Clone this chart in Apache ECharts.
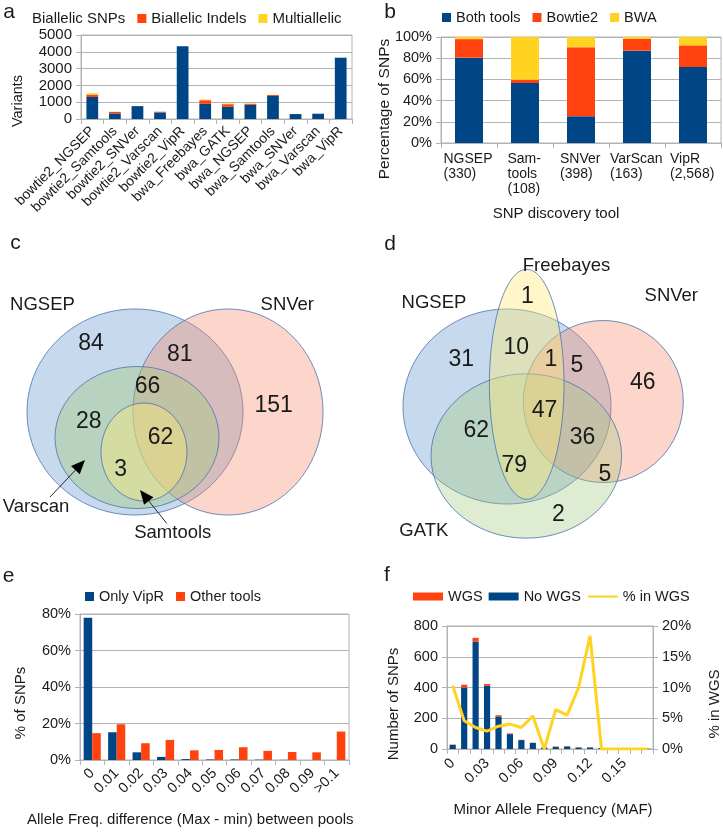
<!DOCTYPE html>
<html><head><meta charset="utf-8">
<script src="https://cdn.jsdelivr.net/npm/echarts/dist/echarts.min.js"></script>
<style>html,body{margin:0;padding:0;background:#fff}#c{width:723px;height:832px}</style>
</head><body><div id="c"></div>
<script>
// ---------- Panel a ----------
const aCategories = ['bowtie2_NGSEP','bowtie2_Samtools','bowtie2_SNVer','bowtie2_Varscan','bowtie2_VipR','bwa_Freebayes','bwa_GATK','bwa_NGSEP','bwa_Samtools','bwa_SNVer','bwa_Varscan','bwa_VipR'];
const aBiallelicSNPs   = [1310, 333, 765, 392, 4330, 902, 725, 843, 1372, 294, 314, 3650];
const aBiallelicIndels = [140, 90, 0, 40, 0, 216, 157, 59, 59, 0, 0, 0];
const aMultiallelic    = [80, 10, 0, 0, 0, 39, 39, 29, 0, 0, 0, 0];

// ---------- Panel b ----------
const bCategories = ['NGSEP\n(330)', 'Sam-\ntools\n(108)', 'SNVer\n(398)', 'VarScan\n(163)', 'VipR\n(2,568)'];
const bBothTools = [80.5, 56.6, 25.2, 87.1, 71.7];
const bBowtie2   = [17.5, 3.1, 65.1, 11.0, 20.4];
const bBWA       = [2.0, 40.3, 9.7, 1.9, 7.9];

// ---------- Panel c (Venn) ----------
const cSetNames = ['NGSEP', 'SNVer', 'Varscan', 'Samtools'];
const cCounts = [84, 81, 66, 151, 28, 62, 3];

// ---------- Panel d (Venn) ----------
const dSetNames = ['Freebayes', 'NGSEP', 'SNVer', 'GATK'];
const dCounts = [1, 10, 1, 5, 31, 46, 47, 62, 36, 79, 5, 2];

// ---------- Panel e ----------
const eCategories = ['0','0.01','0.02','0.03','0.04','0.05','0.06','0.07','0.08','0.09','>0.1'];
const eOnlyVipR    = [78.0, 15.2, 4.2, 1.7, 0.5, 0.3, 0.3, 0.2, 0.1, 0, 0];
const eOtherTools  = [14.7, 19.6, 9.2, 11.0, 5.3, 5.5, 7.0, 5.0, 4.4, 4.2, 15.6];

// ---------- Panel f ----------
const fCategories = ['0','0.01','0.02','0.03','0.04','0.05','0.06','0.07','0.08','0.09','0.1','0.11','0.12','0.13','0.14','0.15','0.16','0.17'];
const fNoWGS  = [26, 400, 698, 411, 212, 97, 58, 39, 9, 15, 17, 10, 10, 6, 1, 1, 1, 2];
const fWGS    = [3, 18, 25, 12, 8, 4, 2, 2, 0, 1, 1, 1, 2, 0, 0, 0, 0, 0];
const fPctInWGS = [10.3, 4.6, 3.5, 2.9, 3.7, 4.05, 3.5, 5.35, 0, 6.4, 5.5, 10.0, 18.4, 0, 0, 0, 0, 0];

// ---------- axis titles ----------
const axisTitles = ['Variants', 'Percentage of SNPs', 'SNP discovery tool', '% of SNPs',
  'Allele Freq. difference (Max - min) between pools', 'Number of SNPs', '% in WGS', 'Minor Allele Frequency (MAF)'];

// ---------- layout / style (not data) ----------
const FONT = '"Liberation Sans", Arial, sans-serif';
const TXT = '#1a1a1a';
const GRID = '#b3b3b3';
const BLUE = '#004586', RED = '#ff420e', YEL = '#ffd320';

const axisTitlePos = [ // [x, y, fontSize, vertical]
  [18, 101, 14.5, true], [385, 109, 15.5, true], [556, 214, 15, false], [20.5, 703, 15, true],
  [190.3, 820, 15, false], [394, 704, 15, true], [715, 704, 15, true], [553, 810, 15, false]
];

const cEllipses = [ // NGSEP, SNVer, Varscan, Samtools
  {cx:135, cy:412, rx:108, ry:103, fill:'rgba(114,159,207,0.40)'},
  {cx:228, cy:412, rx:95, ry:103, fill:'rgba(246,135,106,0.35)'},
  {cx:137, cy:437.5, rx:82, ry:71, fill:'rgba(161,201,126,0.40)'},
  {cx:144, cy:452, rx:43, ry:49, fill:'rgba(255,236,120,0.40)'}
];
const cDrawOrder = [0, 1, 2, 3];
const cNamePos = [[42.5,305],[287.3,305],[36,506.7],[172.8,533.3]];
const cCountPos = [[91,343.3],[179.7,354.5],[147.5,386.8],[273.7,405.8],[88.7,421.2],[160.5,438],[120.7,469.5]];

const dEllipses = [ // Freebayes, NGSEP, SNVer, GATK
  {cx:526.7, cy:384.3, rx:37.3, ry:115, fill:'rgba(255,236,120,0.40)'},
  {cx:507, cy:406.5, rx:104, ry:97.5, fill:'rgba(114,159,207,0.40)'},
  {cx:603.3, cy:401.5, rx:80, ry:81, fill:'rgba(246,135,106,0.35)'},
  {cx:526.3, cy:456, rx:95.3, ry:82.2, fill:'rgba(161,201,126,0.35)'}
];
const dDrawOrder = [1, 2, 3, 0];
const dNamePos = [[566.5,266],[434,303.3],[671.3,296.3],[423.8,530.7]];
const dCountPos = [[527.5,297],[516.2,347.7],[550.8,359.2],[577,365.5],[461.2,359.7],[642.8,382.8],[544.5,410.7],[476.2,430.5],[582.5,438],[514.2,465.3],[604.8,474.5],[558.5,514.7]];

const graphics = [];
function txt(t, x, y, size, rot) {
  graphics.push({type:'text', silent:true, x:x, y:y, rotation:rot ? Math.PI/2 : 0,
    style:{text:t, x:0, y:0, font:size+'px '+FONT, fill:TXT, align:'center', verticalAlign:'middle'}});
}
function ell(e) {
  graphics.push({type:'ellipse', silent:true, shape:{cx:e.cx, cy:e.cy, rx:e.rx, ry:e.ry}, style:{fill:e.fill, stroke:'#4a72b0', lineWidth:0.8}});
}
function arrow(x1, y1, x2, y2) {
  const dx = x2-x1, dy = y2-y1, L = Math.hypot(dx, dy), ux = dx/L, uy = dy/L;
  const hl = 14, hw = 6;
  const bx = x2-ux*hl, by = y2-uy*hl, nx = -uy, ny = ux;
  graphics.push({type:'line', silent:true, shape:{x1:x1, y1:y1, x2:bx, y2:by}, style:{stroke:'#111', lineWidth:0.9}});
  graphics.push({type:'polygon', silent:true, shape:{points:[[x2,y2],[bx+nx*hw,by+ny*hw],[bx-nx*hw,by-ny*hw]]}, style:{fill:'#000'}});
}
cDrawOrder.forEach(i => ell(cEllipses[i]));
dDrawOrder.forEach(i => ell(dEllipses[i]));
cSetNames.forEach((n,i) => txt(n, cNamePos[i][0], cNamePos[i][1], 18.5));
dSetNames.forEach((n,i) => txt(n, dNamePos[i][0], dNamePos[i][1], 18.5));
cCounts.forEach((v,i) => txt(String(v), cCountPos[i][0], cCountPos[i][1], 23));
dCounts.forEach((v,i) => txt(String(v), dCountPos[i][0], dCountPos[i][1], 23));
arrow(50, 497, 85, 460);
arrow(166.7, 523.3, 140, 490);
axisTitles.forEach((t,i) => txt(t, axisTitlePos[i][0], axisTitlePos[i][1], axisTitlePos[i][2], axisTitlePos[i][3]));
[['a',9,12],['b',390,12.5],['c',15.5,243],['d',390,244],['e',8.5,576],['f',387,575]].forEach(p => txt(p[0], p[1], p[2], 21));

// panel b labels: block centred on the category, lines left-aligned inside the block
const measureCtx = document.createElement('canvas').getContext('2d');
measureCtx.font = '14px ' + FONT;
const bRich = {};
bCategories.forEach((c, i) => {
  const w = Math.max.apply(null, c.split('\n').map(l => measureCtx.measureText(l).width));
  bRich['L' + i] = {width: Math.ceil(w) + 1, align: 'left', fontSize: 14, lineHeight: 15, color: TXT, fontFamily: FONT};
});
const bFormatter = (v, i) => v.split('\n').map(l => '{L' + i + '|' + l + '}').join('\n');

const axisLineS = {show:true, lineStyle:{color:GRID, width:1}};
const tickS = {show:true, length:5, lineStyle:{color:GRID}};
const splitS = {show:true, lineStyle:{color:GRID, width:1, type:'solid'}};
const lab = (extra) => Object.assign({color:TXT, fontSize:14.5, fontFamily:FONT}, extra);
const plain = v => String(v);
const pct = v => v + '%';

const gridBase = {show:true, borderColor:GRID, borderWidth:1, backgroundColor:'#fff', containLabel:false};
const legBase = {padding:0, selectedMode:false, itemWidth:9, itemHeight:9, itemGap:12, icon:'rect'};

const option = {
  animation:false,
  backgroundColor:'#fff',
  textStyle:{fontFamily:FONT},
  graphic:graphics,
  grid:[
    Object.assign({left:81, top:35, width:271, height:84}, gridBase),
    Object.assign({left:441, top:37, width:280, height:106}, gridBase),
    Object.assign({left:80, top:614, width:269, height:146}, gridBase),
    Object.assign({left:447, top:626, width:206, height:123}, gridBase)
  ],
  legend:[
    Object.assign({}, legBase, {left:18, top:11, textStyle:lab({fontSize:15}),
      data:[{name:'Biallelic SNPs', icon:'none'}, 'Biallelic Indels', 'Multiallelic']}),
    Object.assign({}, legBase, {left:442, top:10, textStyle:lab({fontSize:14.5}),
      data:['Both tools','Bowtie2','BWA']}),
    Object.assign({}, legBase, {left:85, top:589, textStyle:lab({fontSize:14.5}),
      data:['Only VipR','Other tools']}),
    Object.assign({}, legBase, {left:413, top:589, itemWidth:30, itemHeight:8, itemGap:6, icon:null, textStyle:lab({fontSize:14.5}),
      data:[{name:'WGS', icon:'rect'}, {name:'No WGS', icon:'rect'}, {name:'% in WGS', itemStyle:{opacity:0, color:'rgba(0,0,0,0)', borderWidth:0}}]})
  ],
  xAxis:[
    {gridIndex:0, type:'category', data:aCategories, axisLine:axisLineS, axisTick:tickS, splitLine:{show:false},
      axisLabel:lab({rotate:45, interval:0, fontSize:14, margin:10})},
    {gridIndex:1, type:'category', data:bCategories, axisLine:axisLineS, axisTick:tickS, splitLine:{show:false},
      axisLabel:lab({interval:0, fontSize:14, lineHeight:15, margin:9, formatter:bFormatter, rich:bRich})},
    {gridIndex:2, type:'category', data:eCategories, axisLine:axisLineS, axisTick:tickS, splitLine:{show:false},
      axisLabel:lab({rotate:45, interval:0, margin:11})},
    {gridIndex:3, type:'category', data:fCategories, axisLine:axisLineS, axisTick:Object.assign({interval:0}, tickS), splitLine:{show:false},
      axisLabel:lab({rotate:45, interval:2, margin:12})}
  ],
  yAxis:[
    {gridIndex:0, type:'value', min:0, max:5000, interval:1000, axisLine:axisLineS, axisTick:tickS, splitLine:splitS,
      axisLabel:lab({fontSize:15, margin:9, formatter:plain})},
    {gridIndex:1, type:'value', min:0, max:100, interval:20, axisLine:axisLineS, axisTick:tickS, splitLine:splitS,
      axisLabel:lab({formatter:pct, margin:9})},
    {gridIndex:2, type:'value', min:0, max:80, interval:20, axisLine:axisLineS, axisTick:tickS, splitLine:splitS,
      axisLabel:lab({formatter:pct, margin:9})},
    {gridIndex:3, type:'value', min:0, max:800, interval:200, axisLine:axisLineS, axisTick:tickS, splitLine:splitS,
      axisLabel:lab({margin:9, formatter:plain})},
    {gridIndex:3, type:'value', position:'right', min:0, max:20, interval:5, axisLine:axisLineS, axisTick:tickS, splitLine:{show:false},
      axisLabel:lab({formatter:pct, margin:9})}
  ],
  series:[
    {name:'Biallelic SNPs', type:'bar', xAxisIndex:0, yAxisIndex:0, stack:'a', data:aBiallelicSNPs, itemStyle:{color:BLUE}, barCategoryGap:'48%'},
    {name:'Biallelic Indels', type:'bar', xAxisIndex:0, yAxisIndex:0, stack:'a', data:aBiallelicIndels, itemStyle:{color:RED}},
    {name:'Multiallelic', type:'bar', xAxisIndex:0, yAxisIndex:0, stack:'a', data:aMultiallelic, itemStyle:{color:YEL}},

    {name:'Both tools', type:'bar', xAxisIndex:1, yAxisIndex:1, stack:'b', data:bBothTools, itemStyle:{color:BLUE}, barCategoryGap:'50%'},
    {name:'Bowtie2', type:'bar', xAxisIndex:1, yAxisIndex:1, stack:'b', data:bBowtie2, itemStyle:{color:RED}},
    {name:'BWA', type:'bar', xAxisIndex:1, yAxisIndex:1, stack:'b', data:bBWA, itemStyle:{color:YEL}},

    {name:'Only VipR', type:'bar', xAxisIndex:2, yAxisIndex:2, data:eOnlyVipR, itemStyle:{color:BLUE}, barGap:'0%', barCategoryGap:'30%'},
    {name:'Other tools', type:'bar', xAxisIndex:2, yAxisIndex:2, data:eOtherTools, itemStyle:{color:RED}, barGap:'0%', barCategoryGap:'30%'},

    {name:'No WGS', type:'bar', xAxisIndex:3, yAxisIndex:3, stack:'f', data:fNoWGS, itemStyle:{color:BLUE}, barCategoryGap:'46%'},
    {name:'WGS', type:'bar', xAxisIndex:3, yAxisIndex:3, stack:'f', data:fWGS, itemStyle:{color:RED}},
    {name:'% in WGS', type:'line', xAxisIndex:3, yAxisIndex:4, data:fPctInWGS, symbol:'none', lineStyle:{color:YEL, width:3}, itemStyle:{color:YEL}, z:5}
  ]
};
const chart = echarts.init(document.getElementById('c'), null, {renderer:'canvas'});
chart.setOption(option);
</script></body></html>
